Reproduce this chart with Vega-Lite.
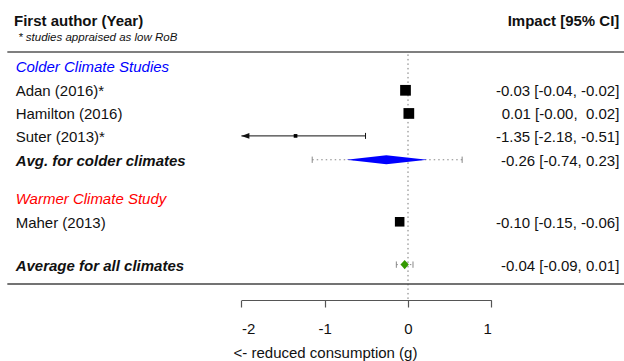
{
  "$schema": "https://vega.github.io/schema/vega-lite/v6.json",
  "width": 624,
  "height": 361,
  "padding": 0,
  "autosize": {"type": "none"},
  "background": "white",
  "config": {"view": {"stroke": null}, "font": "Liberation Sans"},
  "datasets": {
    "studies": [
      {"label": "Adan (2016)*", "row": 11, "est": -0.03, "lo": -0.04, "hi": -0.02, "weight": 34, "ci": "-0.03 [-0.04, -0.02]"},
      {"label": "Hamilton (2016)", "row": 10, "est": 0.01, "lo": -0.0, "hi": 0.02, "weight": 34, "ci": "0.01 [-0.00, \u00a00.02]"},
      {"label": "Suter (2013)*", "row": 9.03, "est": -1.35, "lo": -2.18, "hi": -0.51, "weight": 4, "ci": "-1.35 [-2.18, -0.51]"},
      {"label": "Maher (2013)", "row": 5.32, "est": -0.1, "lo": -0.15, "hi": -0.06, "weight": 27, "ci": "-0.10 [-0.15, -0.06]"}
    ],
    "pooled": [
      {"label": "Avg. for colder climates", "row": 8, "est": -0.26, "lo": -0.74, "hi": 0.23, "pi_lo": -1.15, "pi_hi": 0.65, "set": "colder", "ci": "-0.26 [-0.74, 0.23]"},
      {"label": "Average for all climates", "row": 3.47, "est": -0.04, "lo": -0.09, "hi": 0.01, "pi_lo": -0.14, "pi_hi": 0.06, "set": "all", "ci": "-0.04 [-0.09, 0.01]"}
    ],
    "groups": [
      {"label": "Colder Climate Studies", "row": 12.05, "climate": "colder"},
      {"label": "Warmer Climate Study", "row": 6.35, "climate": "warmer"}
    ]
  },
  "layer": [
    {
      "data": {"values": [{}]},
      "mark": {"type": "rule", "stroke": "#777", "strokeWidth": 1, "strokeDash": [1.5, 3]},
      "encoding": {
        "x": {"datum": 0, "type": "quantitative",
          "scale": {"domain": [-2, 1], "range": [241.4, 491.3], "nice": false, "zero": false},
          "axis": {"values": [-2, -1, 0, 1], "labelExpr": "'' + datum.value", "grid": false, "offset": -61,
            "domainColor": "#555", "domainWidth": 1.2, "tickColor": "#555", "tickWidth": 1.2, "tickSize": 7,
            "labelFontSize": 15, "labelColor": "#111", "labelPadding": 14, "labelFont": "Liberation Sans",
            "title": "<- reduced consumption (g)", "titleFontSize": 15, "titleFontWeight": "normal", "titleColor": "#111",
            "titleFont": "Liberation Sans", "titleX": 325, "titleY": 45.5, "titleAlign": "center"}},
        "y": {"datum": 12.55, "type": "quantitative",
          "scale": {"domain": [0, 14], "range": [344.95, 20.85], "nice": false, "zero": false}, "axis": null},
        "y2": {"datum": 1.94}
      }
    },
    {
      "data": {"values": [{}]},
      "mark": {"type": "rule", "stroke": "#555", "strokeWidth": 1.5},
      "encoding": {
        "x": {"datum": -4.81, "type": "quantitative"},
        "x2": {"datum": 2.6},
        "y": {"datum": 12.65, "type": "quantitative", "axis": null}
      }
    },
    {
      "data": {"values": [{}]},
      "mark": {"type": "rule", "stroke": "#444", "strokeWidth": 1.5},
      "encoding": {
        "x": {"datum": -4.81, "type": "quantitative"},
        "x2": {"datum": 2.6},
        "y": {"datum": 2.63, "type": "quantitative", "axis": null}
      }
    },
    {
      "data": {"name": "studies"},
      "transform": [{"filter": "datum.lo >= -2"}],
      "mark": {"type": "rule", "stroke": "#111", "strokeWidth": 1},
      "encoding": {
        "x": {"field": "lo", "type": "quantitative"},
        "x2": {"field": "hi"},
        "y": {"field": "row", "type": "quantitative", "axis": null}
      }
    },
    {
      "data": {"name": "studies"},
      "transform": [{"filter": "datum.lo < -2"}],
      "mark": {"type": "rule", "stroke": "#111", "strokeWidth": 1},
      "encoding": {
        "x": {"field": "hi", "type": "quantitative"},
        "x2": {"datum": -2},
        "y": {"field": "row", "type": "quantitative", "axis": null}
      }
    },
    {
      "data": {"name": "studies"},
      "transform": [{"filter": "datum.lo < -2"}],
      "mark": {"type": "point", "shape": "M-1,0L1,-0.7L1,0.7Z", "filled": true, "color": "#111", "size": 64, "opacity": 1, "xOffset": 4},
      "encoding": {
        "x": {"datum": -2, "type": "quantitative"},
        "y": {"field": "row", "type": "quantitative", "axis": null}
      }
    },
    {
      "data": {"name": "studies"},
      "mark": {"type": "point", "shape": "M0,-1L0,1", "filled": false, "color": "#111", "strokeWidth": 1, "size": 36, "opacity": 1},
      "encoding": {
        "x": {"field": "hi", "type": "quantitative"},
        "y": {"field": "row", "type": "quantitative", "axis": null}
      }
    },
    {
      "data": {"name": "studies"},
      "transform": [{"filter": "datum.lo >= -2"}],
      "mark": {"type": "point", "shape": "M0,-1L0,1", "filled": false, "color": "#111", "strokeWidth": 1, "size": 36, "opacity": 1},
      "encoding": {
        "x": {"field": "lo", "type": "quantitative"},
        "y": {"field": "row", "type": "quantitative", "axis": null}
      }
    },
    {
      "data": {"name": "studies"},
      "mark": {"type": "point", "shape": "square", "filled": true, "color": "#000", "opacity": 1},
      "encoding": {
        "x": {"field": "est", "type": "quantitative"},
        "y": {"field": "row", "type": "quantitative", "axis": null},
        "size": {"field": "weight", "type": "quantitative", "scale": {"domain": [0, 34], "range": [0, 115], "zero": true}, "legend": null}
      }
    },
    {
      "data": {"name": "pooled"},
      "mark": {"type": "rule", "stroke": "#888", "strokeWidth": 1, "strokeDash": [1.5, 3]},
      "encoding": {
        "x": {"field": "pi_lo", "type": "quantitative"},
        "x2": {"field": "pi_hi"},
        "y": {"field": "row", "type": "quantitative", "axis": null}
      }
    },
    {
      "data": {"name": "pooled"},
      "mark": {"type": "point", "shape": "M0,-1L0,1", "filled": false, "color": "#888", "strokeWidth": 1, "size": 40, "opacity": 1},
      "encoding": {
        "x": {"field": "pi_lo", "type": "quantitative"},
        "y": {"field": "row", "type": "quantitative", "axis": null}
      }
    },
    {
      "data": {"name": "pooled"},
      "mark": {"type": "point", "shape": "M0,-1L0,1", "filled": false, "color": "#888", "strokeWidth": 1, "size": 40, "opacity": 1},
      "encoding": {
        "x": {"field": "pi_hi", "type": "quantitative"},
        "y": {"field": "row", "type": "quantitative", "axis": null}
      }
    },
    {
      "data": {"name": "pooled"},
      "transform": [{"fold": ["lo", "est", "hi"], "as": ["part", "xv"]}],
      "mark": {"type": "area", "orient": "vertical", "opacity": 1,
        "yOffset": {"expr": "datum.part === 'est' ? -4.6 : 0"},
        "y2Offset": {"expr": "datum.part === 'est' ? 4.6 : 0"}},
      "encoding": {
        "x": {"field": "xv", "type": "quantitative"},
        "y": {"field": "row", "type": "quantitative", "axis": null},
        "y2": {"field": "row"},
        "detail": {"field": "set", "type": "nominal"},
        "color": {"field": "set", "type": "nominal", "scale": {"domain": ["colder", "all"], "range": ["#0000ff", "#339900"]}, "legend": null}
      }
    },
    {
      "data": {"name": "studies"},
      "mark": {"type": "text", "align": "left", "baseline": "middle", "fontSize": 15, "color": "#111", "dy": 0.9},
      "encoding": {
        "x": {"datum": -4.71, "type": "quantitative"},
        "y": {"field": "row", "type": "quantitative", "axis": null},
        "text": {"field": "label", "type": "nominal"}
      }
    },
    {
      "data": {"name": "pooled"},
      "mark": {"type": "text", "align": "left", "baseline": "middle", "fontSize": 15, "fontWeight": "bold", "fontStyle": "italic", "color": "#111", "dy": 0.9},
      "encoding": {
        "x": {"datum": -4.71, "type": "quantitative"},
        "y": {"field": "row", "type": "quantitative", "axis": null},
        "text": {"field": "label", "type": "nominal"}
      }
    },
    {
      "data": {"name": "groups"},
      "mark": {"type": "text", "align": "left", "baseline": "middle", "fontSize": 15, "fontStyle": "italic", "dy": 0.9},
      "encoding": {
        "x": {"datum": -4.71, "type": "quantitative"},
        "y": {"field": "row", "type": "quantitative", "axis": null},
        "text": {"field": "label", "type": "nominal"},
        "fill": {"field": "climate", "type": "nominal", "scale": {"domain": ["colder", "warmer"], "range": ["#0000ff", "#ff0000"]}, "legend": null}
      }
    },
    {
      "data": {"name": "studies"},
      "mark": {"type": "text", "align": "right", "baseline": "middle", "fontSize": 15, "color": "#111", "dy": 0.9},
      "encoding": {
        "x": {"datum": 2.537, "type": "quantitative"},
        "y": {"field": "row", "type": "quantitative", "axis": null},
        "text": {"field": "ci", "type": "nominal"}
      }
    },
    {
      "data": {"name": "pooled"},
      "mark": {"type": "text", "align": "right", "baseline": "middle", "fontSize": 15, "color": "#111", "dy": 0.9},
      "encoding": {
        "x": {"datum": 2.537, "type": "quantitative"},
        "y": {"field": "row", "type": "quantitative", "axis": null},
        "text": {"field": "ci", "type": "nominal"}
      }
    },
    {
      "data": {"values": [{"t": "First author (Year)"}]},
      "mark": {"type": "text", "align": "left", "baseline": "middle", "fontSize": 15, "fontWeight": "bold", "color": "#111", "dy": 0.9},
      "encoding": {
        "x": {"datum": -4.73, "type": "quantitative"},
        "y": {"datum": 14.04, "type": "quantitative", "axis": null},
        "text": {"field": "t", "type": "nominal"}
      }
    },
    {
      "data": {"values": [{"t": "* studies appraised as low RoB"}]},
      "mark": {"type": "text", "align": "left", "baseline": "middle", "fontSize": 11.5, "fontStyle": "italic", "color": "#111", "dy": 0.7},
      "encoding": {
        "x": {"datum": -4.68, "type": "quantitative"},
        "y": {"datum": 13.31, "type": "quantitative", "axis": null},
        "text": {"field": "t", "type": "nominal"}
      }
    },
    {
      "data": {"values": [{"t": "Impact [95% CI]"}]},
      "mark": {"type": "text", "align": "right", "baseline": "middle", "fontSize": 15, "fontWeight": "bold", "color": "#111", "dy": 0.9},
      "encoding": {
        "x": {"datum": 2.537, "type": "quantitative"},
        "y": {"datum": 14.04, "type": "quantitative", "axis": null},
        "text": {"field": "t", "type": "nominal"}
      }
    }
  ]
}
